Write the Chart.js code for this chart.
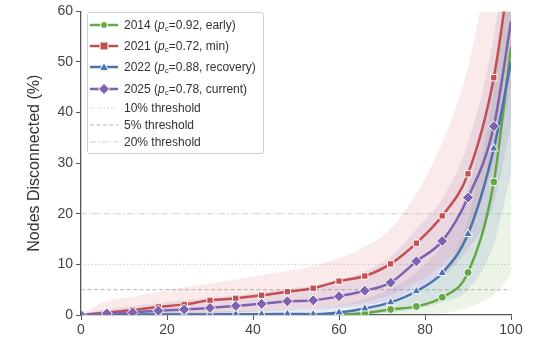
<!DOCTYPE html>
<html>
<head>
<meta charset="utf-8">
<script src="https://cdn.jsdelivr.net/npm/chart.js@4.4.0/dist/chart.umd.min.js"></script>
<style>
  body { margin: 0; background: #fff; }
  #wrap { position: relative; width: 560px; height: 350px; }
  #legend {
    position: absolute; left: 87px; top: 12px; width: 175px; height: 140px;
    border: 1px solid #d0d0d0; border-radius: 3px; background: rgba(255,255,255,0.85);
    font-family: Arial, "Liberation Sans", sans-serif; font-size: 12px; color: #333;
  }
  .row { position: absolute; left: 0; height: 14px; line-height: 14px; white-space: nowrap; }
  .row svg { position: absolute; left: 1px; top: 0; }
  .row span { position: absolute; left: 36px; top: 0; }
  sub { font-size: 8px; vertical-align: -2px; }
</style>
</head>
<body>
<div id="wrap">
  <canvas id="fragChart" width="560" height="350"></canvas>
  <div id="legend"></div>
</div>
<script>
// fraction of nodes removed (%)
const removed = [0, 6, 12, 18, 24, 30, 36, 42, 48, 54, 60, 66, 72, 78, 84, 90, 96, 100];

const y2014 = [0, 0, 0, 0, 0, 0, 0, 0, 0, 0.05, 0.1, 0.4, 1.1, 1.7, 3.5, 8.4, 26.3, 53];
const y2021 = [0, 0.5, 1.0, 1.6, 2.1, 2.9, 3.3, 3.9, 4.6, 5.3, 6.7, 7.7, 10.1, 14.2, 19.6, 27.9, 46.9, 70];
const y2022 = [0, 0.05, 0.05, 0.1, 0.1, 0.1, 0.15, 0.15, 0.2, 0.15, 0.5, 1.3, 2.5, 4.7, 8.3, 16.0, 32.9, 50];
const y2025 = [0, 0.3, 0.5, 0.85, 1.1, 1.4, 1.8, 2.2, 2.7, 2.9, 3.7, 4.8, 6.4, 10.6, 14.6, 23.2, 37.3, 58];

// spread bands
const lo2014 = [0, 0, 0, 0, 0, 0, 0, 0, 0, 0, 0, 0, 0, 0.1, 0.4, 1.5, 4, 8];
const hi2014 = [0, 0.1, 0.1, 0.1, 0.1, 0.2, 0.2, 0.3, 0.3, 0.4, 0.6, 1.4, 2.8, 4.5, 8.5, 19, 45, 75];
const lo2021 = [0, 0, 0, 0, 0.2, 0.4, 0.6, 0.8, 1, 1.3, 1.8, 2.5, 4, 6.5, 10, 16, 30, 45];
const hi2021 = [0.3, 2.7, 3.6, 4.6, 5.5, 6.2, 7.0, 7.9, 8.7, 9.7, 11.2, 13.5, 17, 24, 34, 49, 75, 95];
const lo2022 = [0, 0, 0, 0, 0, 0, 0, 0, 0, 0, 0, 0.2, 0.5, 1.2, 2.5, 5, 14, 28];
const hi2022 = [0.1, 0.3, 0.4, 0.5, 0.6, 0.7, 0.8, 0.9, 1.0, 1.2, 1.9, 3.2, 5.2, 8.5, 14, 25, 47, 68];
const lo2025 = [0, 0, 0, 0.1, 0.2, 0.3, 0.5, 0.7, 0.9, 1.0, 1.4, 2.0, 2.9, 5.2, 7.6, 13, 22, 38];
const hi2025 = [0.2, 1.2, 1.8, 2.4, 2.9, 3.4, 3.9, 4.5, 5.2, 5.8, 6.9, 8.6, 11.5, 17, 23, 34, 55, 80];

const thresholds = [10, 5, 20];
const thresholdLabels = ["10% threshold", "5% threshold", "20% threshold"];

const GREEN = "#62a845", RED = "#c44e52", BLUE = "#4c72b0", PURPLE = "#7d62b0";
const FONT = "Arial, 'Liberation Sans', sans-serif";

function pts(arr) { return removed.map((x, i) => ({ x: x, y: arr[i] })); }
function radii(r) { return removed.map((x, i) => (i === removed.length - 1 ? 0 : r)); }

function band(lo, hi, rgba, order) {
  return [
    { data: pts(lo), borderWidth: 0, pointRadius: 0, fill: false, order: order, cubicInterpolationMode: "monotone" },
    { data: pts(hi), borderWidth: 0, pointRadius: 0, fill: "-1", backgroundColor: rgba, order: order, cubicInterpolationMode: "monotone" },
  ];
}

function series(arr, color, style, r, order) {
  return {
    data: pts(arr), borderColor: color, backgroundColor: color, borderWidth: 2.5,
    pointStyle: style, pointRadius: radii(r), pointBorderColor: "#fff", pointBorderWidth: 1,
    pointBackgroundColor: color, fill: false, order: order, cubicInterpolationMode: "monotone",
  };
}

const dashes = [[1.5, 2], [4, 2.5], [6, 2, 1.5, 2]];
const thresholdColors = ["#cfcfcf", "#b5b5b5", "#cfcfcf"];

const datasets = [
  series(y2025, PURPLE, "rectRot", 5.5, 1),
  series(y2022, BLUE, "triangle", 5, 2),
  series(y2021, RED, "rect", 4.5, 3),
  series(y2014, GREEN, "circle", 4, 4),
  ...band(lo2021, hi2021, "rgba(214,90,95,0.13)", 10),
  ...band(lo2025, hi2025, "rgba(125,98,176,0.14)", 11),
  ...band(lo2022, hi2022, "rgba(76,114,176,0.13)", 12),
  ...band(lo2014, hi2014, "rgba(98,168,69,0.12)", 13),
  ...thresholds.map((t, i) => ({
    data: [{ x: 0, y: t }, { x: 100, y: t }], borderColor: thresholdColors[i], borderWidth: 1,
    borderDash: dashes[i], pointRadius: 0, fill: false, order: 20,
  })),
];

new Chart(document.getElementById("fragChart"), {
  type: "line",
  data: { datasets: datasets },
  options: {
    responsive: false, animation: false,
    layout: { padding: { top: 9, right: 49, left: 25, bottom: 0 } },
    plugins: { legend: { display: false }, tooltip: { enabled: false } },
    scales: {
      x: {
        type: "linear", min: 0, max: 100,
        ticks: { stepSize: 20, color: "#444", font: { family: FONT, size: 14 }, padding: 2 },
        grid: { display: true, drawOnChartArea: false, drawTicks: true, tickLength: 5, color: "#555" },
        border: { display: true, color: "#555", width: 1.3 },
        afterFit: (s) => { s.height = 35; },
      },
      y: {
        min: 0, max: 60,
        ticks: { stepSize: 10, color: "#444", font: { family: FONT, size: 14 }, padding: 3 },
        grid: { display: true, drawOnChartArea: false, drawTicks: true, tickLength: 5, color: "#555" },
        border: { display: true, color: "#555", width: 1.3 },
        title: { display: true, text: "Nodes Disconnected (%)", color: "#333", font: { family: FONT, size: 16 }, padding: { top: 0, bottom: 4 } },
        afterFit: (s) => { s.width = 56; },
      },
    },
  },
});

// legend
const legendRows = [
  { color: GREEN, marker: "circle", html: "2014 (<i>p</i><sub>c</sub>=0.92, early)" },
  { color: RED, marker: "square", html: "2021 (<i>p</i><sub>c</sub>=0.72, min)" },
  { color: BLUE, marker: "triangle", html: "2022 (<i>p</i><sub>c</sub>=0.88, recovery)" },
  { color: PURPLE, marker: "diamond", html: "2025 (<i>p</i><sub>c</sub>=0.78, current)" },
];
const rowTops = [5, 26, 47, 69, 88, 105, 122];
function markerSvg(m, c) {
  if (m === "circle") return `<circle cx="15" cy="7" r="3.5" fill="${c}" stroke="#fff" stroke-width="1"/>`;
  if (m === "square") return `<rect x="11" y="3" width="8" height="8" fill="${c}" stroke="#fff" stroke-width="1"/>`;
  if (m === "triangle") return `<polygon points="15,2.5 19.5,10.5 10.5,10.5" fill="${c}" stroke="#fff" stroke-width="1"/>`;
  return `<polygon points="15,1.5 20.5,7 15,12.5 9.5,7" fill="${c}" stroke="#fff" stroke-width="1"/>`;
}
const lg = document.getElementById("legend");
let out = "";
legendRows.forEach((r, i) => {
  out += `<div class="row" style="top:${rowTops[i]}px"><svg width="32" height="14">` +
    `<line x1="1" y1="7" x2="29" y2="7" stroke="${r.color}" stroke-width="2.5"/>` +
    markerSvg(r.marker, r.color) + `</svg><span>${r.html}</span></div>`;
});
thresholdLabels.forEach((t, i) => {
  out += `<div class="row" style="top:${rowTops[4 + i]}px"><svg width="32" height="14">` +
    `<line x1="1" y1="7" x2="29" y2="7" stroke="${thresholdColors[i]}" stroke-width="1" stroke-dasharray="${dashes[i].join(" ")}"/>` +
    `</svg><span>${t}</span></div>`;
});
lg.innerHTML = out;
</script>
</body>
</html>
